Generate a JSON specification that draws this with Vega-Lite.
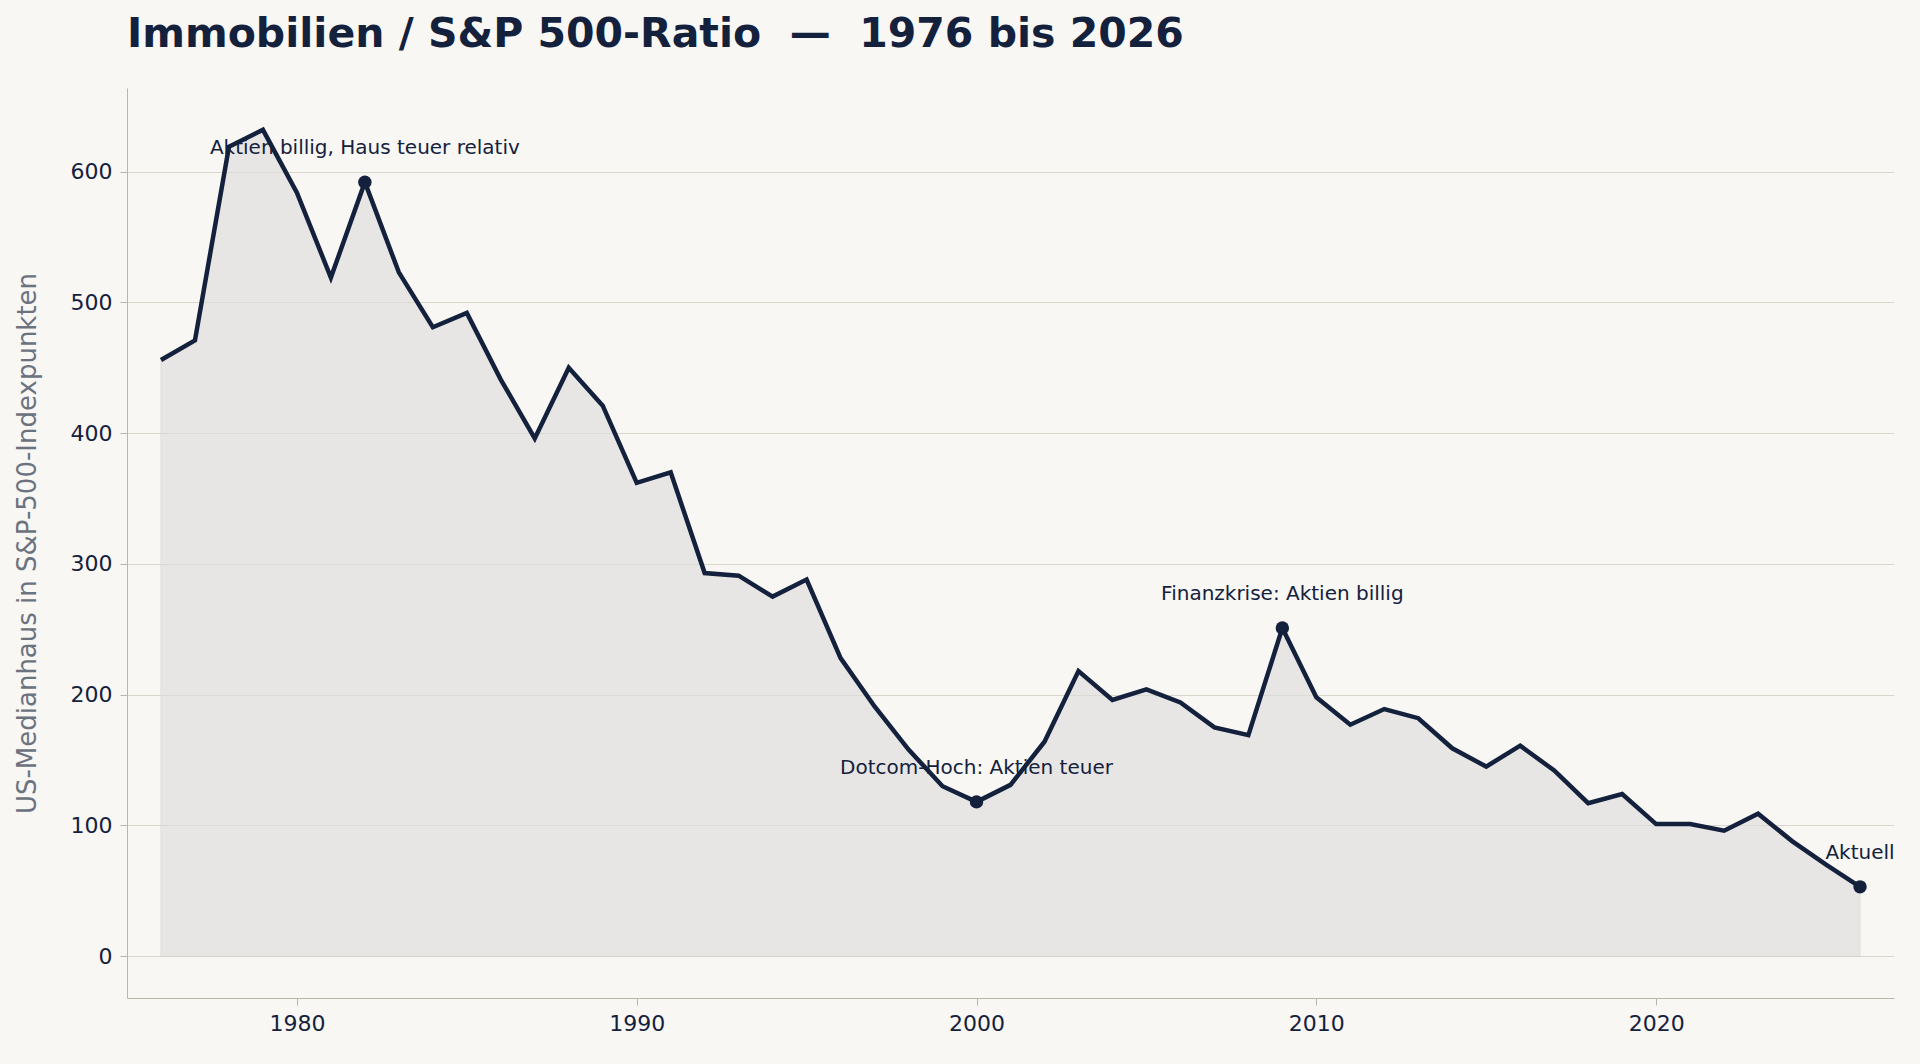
{
  "$schema": "https://vega.github.io/schema/vega-lite/v6.json",
  "width": 1920,
  "height": 1064,
  "autosize": {"type": "fit", "contains": "padding"},
  "background": "#f8f7f4",
  "padding": {"left": 14, "right": 26, "top": 14, "bottom": 30},
  "title": {"text": "Immobilien / S&P 500-Ratio \u00a0—\u00a0 1976 bis 2026", "anchor": "start", "frame": "group", "fontSize": 41, "fontWeight": "bold", "color": "#14213d", "font": "DejaVu Sans", "offset": 32},
  "config": {"view": {"stroke": null}, "font": "DejaVu Sans"},
  "data": {"values": [
    {"year": 1976, "ratio": 456}, {"year": 1977, "ratio": 471}, {"year": 1978, "ratio": 619}, {"year": 1979, "ratio": 632},
    {"year": 1980, "ratio": 584}, {"year": 1981, "ratio": 519}, {"year": 1982, "ratio": 592, "label": "Aktien billig, Haus teuer relativ"},
    {"year": 1983, "ratio": 523}, {"year": 1984, "ratio": 481}, {"year": 1985, "ratio": 492}, {"year": 1986, "ratio": 441},
    {"year": 1987, "ratio": 396}, {"year": 1988, "ratio": 450}, {"year": 1989, "ratio": 421}, {"year": 1990, "ratio": 362},
    {"year": 1991, "ratio": 370}, {"year": 1992, "ratio": 293}, {"year": 1993, "ratio": 291}, {"year": 1994, "ratio": 275},
    {"year": 1995, "ratio": 288}, {"year": 1996, "ratio": 228}, {"year": 1997, "ratio": 191}, {"year": 1998, "ratio": 158},
    {"year": 1999, "ratio": 130}, {"year": 2000, "ratio": 118, "label": "Dotcom-Hoch: Aktien teuer"}, {"year": 2001, "ratio": 131},
    {"year": 2002, "ratio": 164}, {"year": 2003, "ratio": 218}, {"year": 2004, "ratio": 196}, {"year": 2005, "ratio": 204},
    {"year": 2006, "ratio": 194}, {"year": 2007, "ratio": 175}, {"year": 2008, "ratio": 169},
    {"year": 2009, "ratio": 251, "label": "Finanzkrise: Aktien billig"}, {"year": 2010, "ratio": 198}, {"year": 2011, "ratio": 177},
    {"year": 2012, "ratio": 189}, {"year": 2013, "ratio": 182}, {"year": 2014, "ratio": 159}, {"year": 2015, "ratio": 145},
    {"year": 2016, "ratio": 161}, {"year": 2017, "ratio": 142}, {"year": 2018, "ratio": 117}, {"year": 2019, "ratio": 124},
    {"year": 2020, "ratio": 101}, {"year": 2021, "ratio": 101}, {"year": 2022, "ratio": 96}, {"year": 2023, "ratio": 109},
    {"year": 2024, "ratio": 88}, {"year": 2025, "ratio": 70}, {"year": 2026, "ratio": 53, "label": "Aktuell"}
  ]},
  "encoding": {
    "x": {"field": "year", "type": "quantitative", "scale": {"domain": [1975, 2027], "nice": false, "zero": false},
      "axis": {"title": null, "format": "d", "values": [1980, 1990, 2000, 2010, 2020], "grid": false, "labelFontSize": 22, "labelColor": "#14213d", "domainColor": "#b9b6ac", "tickColor": "#b9b6ac", "tickSize": 7, "labelPadding": 8}},
    "y": {"field": "ratio", "type": "quantitative", "scale": {"domain": [-32, 664], "nice": false, "zero": false},
      "axis": {"title": "US-Medianhaus in S&P-500-Indexpunkten", "titleFontSize": 26, "titleFontWeight": "normal", "titleColor": "#6b7280", "values": [0, 100, 200, 300, 400, 500, 600], "gridColor": "#d9d7cc", "labelFontSize": 22, "labelColor": "#14213d", "domainColor": "#b9b6ac", "tickColor": "#b9b6ac", "tickSize": 7, "labelPadding": 8, "titlePadding": 30}}
  },
  "layer": [
    {"mark": {"type": "area", "color": "#dddcdc", "opacity": 0.6, "stroke": "#cfcecb", "strokeWidth": 1}, "encoding": {"y2": {"datum": 0}}},
    {"mark": {"type": "line", "color": "#14213d", "strokeWidth": 4.5}, "encoding": {}},
    {"transform": [{"filter": "datum.label"}], "mark": {"type": "point", "filled": true, "color": "#14213d", "size": 180, "opacity": 1}},
    {"transform": [{"filter": "datum.label"}], "mark": {"type": "text", "dy": -34, "fontSize": 20, "color": "#14213d"}, "encoding": {"text": {"field": "label"}}}
  ]
}
